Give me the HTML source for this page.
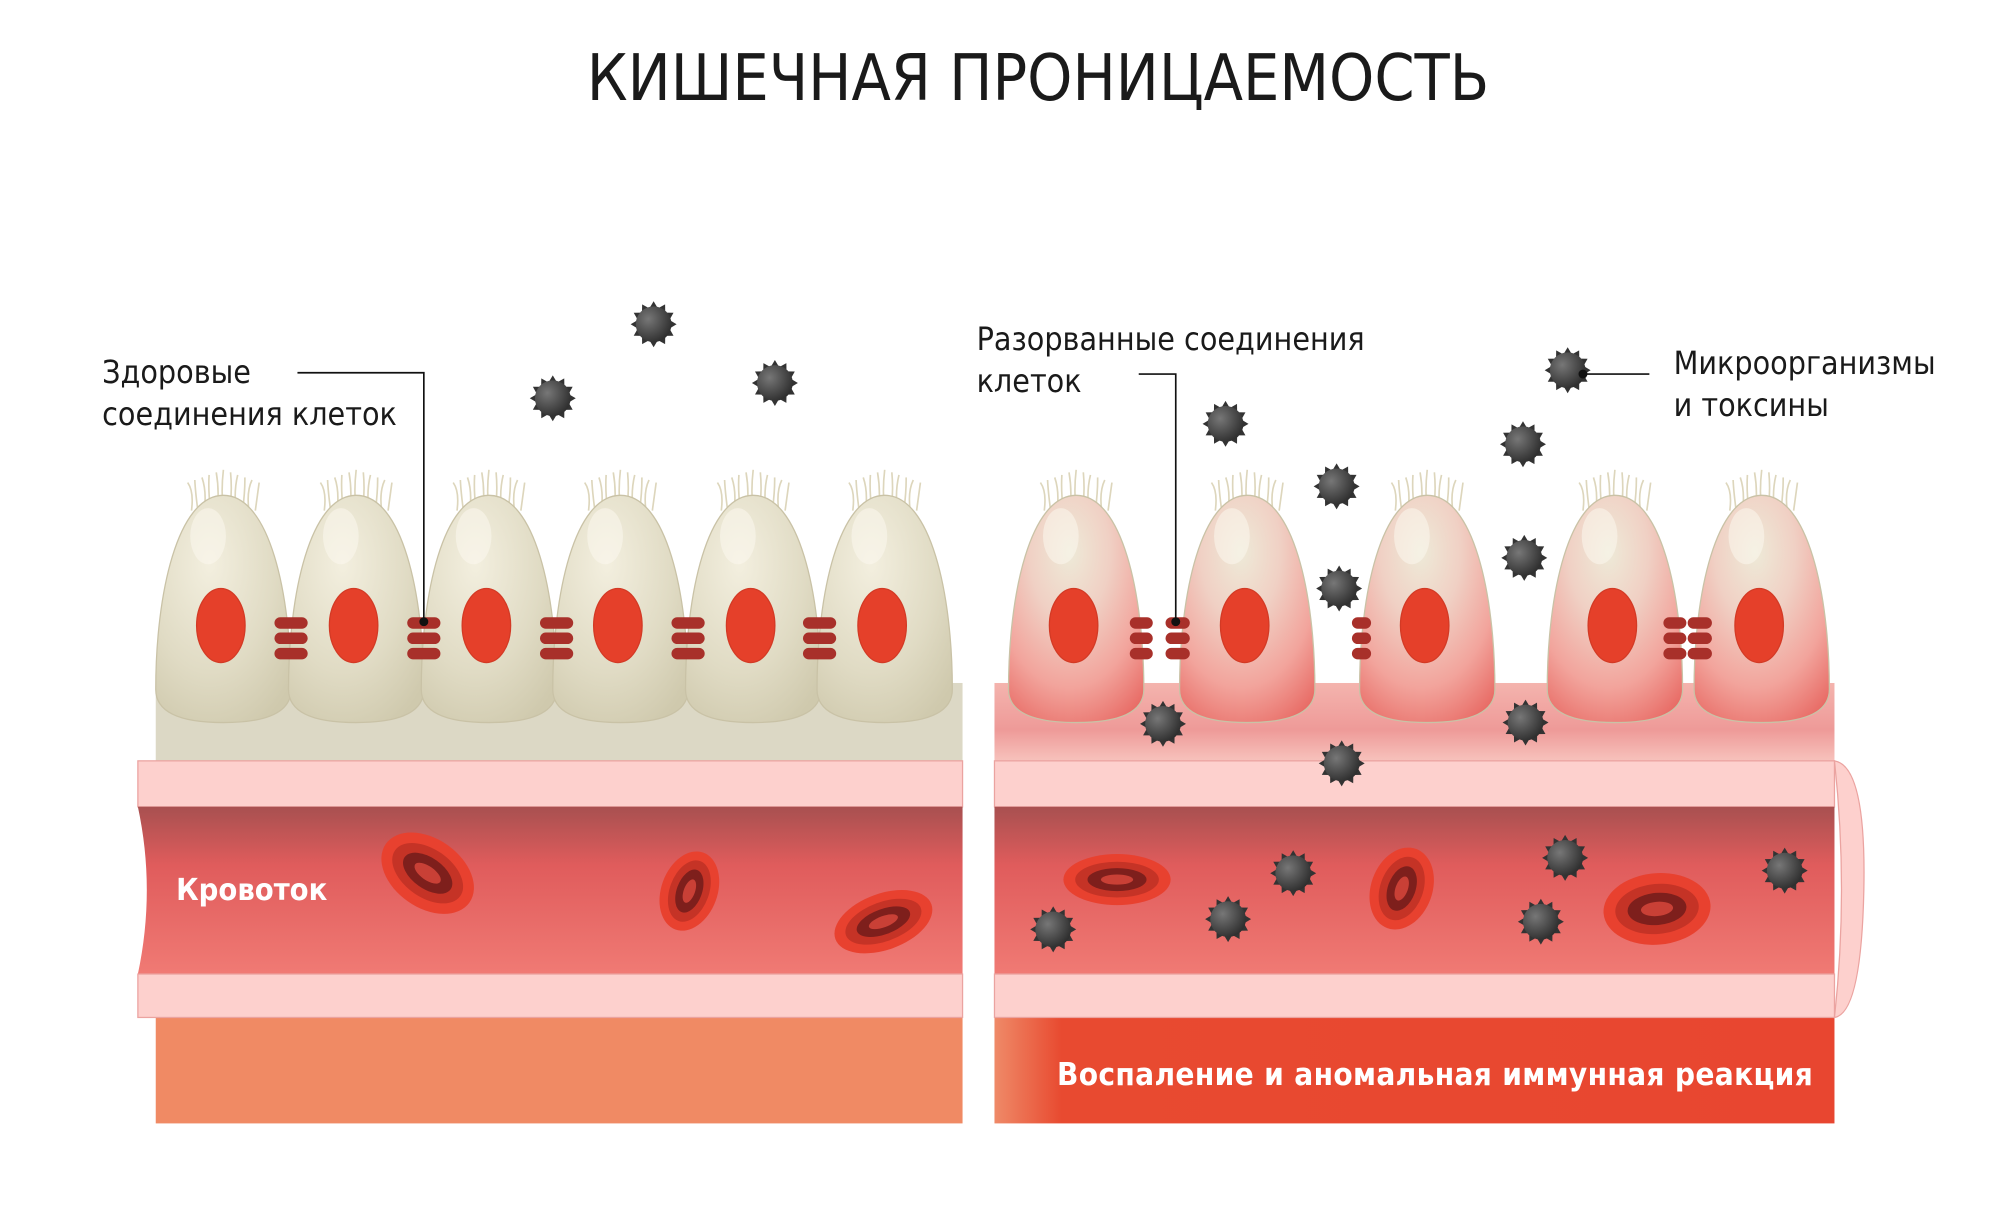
<!DOCTYPE html>
<html><head><meta charset="utf-8"><style>
html,body{margin:0;padding:0;background:#fff;width:2000px;height:1226px;overflow:hidden}
svg{display:block}
text{font-family:"DejaVu Sans Condensed","Liberation Sans",sans-serif}
</style></head><body>
<svg id="s" width="2000" height="1226" viewBox="0 0 2000 1226" xmlns="http://www.w3.org/2000/svg">
<defs>
<linearGradient id="blood" x1="0" y1="0" x2="0" y2="1"><stop offset="0" stop-color="#a85050"/><stop offset="0.35" stop-color="#e05c5c"/><stop offset="1" stop-color="#f07a74"/></linearGradient>
<radialGradient id="cellL" cx="0.4" cy="0.3" r="0.8"><stop offset="0" stop-color="#f3efdf"/><stop offset="0.6" stop-color="#e0dbc4"/><stop offset="1" stop-color="#cfc9ad"/></radialGradient>
<radialGradient id="cellR" cx="0.45" cy="0.25" r="0.85"><stop offset="0" stop-color="#eeead8"/><stop offset="0.35" stop-color="#f0d0c4"/><stop offset="0.7" stop-color="#f2a49c"/><stop offset="1" stop-color="#e86a64"/></radialGradient>
<linearGradient id="baseR" x1="0" y1="0" x2="0" y2="1"><stop offset="0" stop-color="#f4b4ae"/><stop offset="0.6" stop-color="#ee9a98"/><stop offset="1" stop-color="#f7c2bc"/></linearGradient>
<linearGradient id="botR" x1="0" y1="0" x2="1" y2="0"><stop offset="0" stop-color="#ef8a68"/><stop offset="0.08" stop-color="#e84a30"/><stop offset="1" stop-color="#e84630"/></linearGradient>
<radialGradient id="mic" cx="0.35" cy="0.35" r="0.7"><stop offset="0" stop-color="#777"/><stop offset="1" stop-color="#2e2e2e"/></radialGradient>
</defs>
<text x="1038" y="100" font-size="64" text-anchor="middle" fill="#1a1a1a">КИШЕЧНАЯ ПРОНИЦАЕМОСТЬ</text>
<g id="g" transform="scale(1.2766)"></g>
</svg>
<script>
const g=document.getElementById('g');let h='';
h+='<rect x="122" y="535" width="632" height="61" fill="#dcd8c5"/>';
h+='<rect x="779" y="535" width="658" height="61" fill="url(#baseR)"/>';
h+='<rect x="122" y="797" width="632" height="83" fill="#f08a64"/>';
h+='<rect x="779" y="797" width="658" height="83" fill="url(#botR)"/>';
h+='<rect x="108" y="596" width="646" height="36" fill="#fdd0cd" stroke="#eba3a0" stroke-width="1"/>';
h+='<path d="M108,632 L754,632 L754,763 L108,763 Q122,697 108,632Z" fill="url(#blood)"/>';
h+='<rect x="108" y="763" width="646" height="34" fill="#fdd0cd" stroke="#eba3a0" stroke-width="1"/>';
h+='<rect x="779" y="596" width="658" height="36" fill="#fdd0cd" stroke="#eba3a0" stroke-width="1"/>';
h+='<rect x="779" y="632" width="658" height="131" fill="url(#blood)"/>';
h+='<rect x="779" y="763" width="658" height="34" fill="#fdd0cd" stroke="#eba3a0" stroke-width="1"/>';
h+='<path d="M1437,596 Q1462,600 1460,697 Q1458,794 1437,797 Q1448,697 1437,596Z" fill="#fdd0cd" stroke="#eba3a0"/>';
function cell(cx,f){let s='';
 for(let i=-5;i<=5;i++){let x=cx+i*5;s+='<path d="M'+x+',400 Q'+(x+(i%2?2:-2))+',385 '+(x+i*0.6)+','+(368+Math.abs(i)*2)+'" stroke="#ddd6bc" stroke-width="1.3" fill="none"/>';}
 s+='<path d="M'+(cx-53)+',540 C'+(cx-53)+',465 '+(cx-36)+',388 '+cx+',388 C'+(cx+36)+',388 '+(cx+53)+',465 '+(cx+53)+',540 Q'+(cx+53)+',566 '+cx+',566 Q'+(cx-53)+',566 '+(cx-53)+',540Z" fill="url(#'+f+')" stroke="#c9c2a6" stroke-width="1"/>';
 s+='<ellipse cx="'+(cx-12)+'" cy="420" rx="14" ry="22" fill="#fbf8ee" opacity="0.55"/>';
 s+='<ellipse cx="'+(cx-2)+'" cy="490" rx="19" ry="29" fill="#e5402a" stroke="#d33a25"/>';
 return s;}
[175,279,383,486,590,693].forEach(x=>h+=cell(x,'cellL'));
[843,977,1118,1265,1380].forEach(x=>h+=cell(x,'cellR'));
function junc(x,w){let s='';[488,500,512].forEach(y=>s+='<rect x="'+x+'" y="'+(y-4.5)+'" width="'+w+'" height="9" rx="4.5" fill="#a8302a"/>');return s;}
[228,332,436,539,642].forEach(x=>h+=junc(x-13,26));
h+=junc(885,18)+junc(913,19)+junc(1059,15)+junc(1303,18)+junc(1322,19);
function rbc(x,y,a,rx,ry){return '<g transform="translate('+x+','+y+') rotate('+a+')"><ellipse rx="'+rx+'" ry="'+ry+'" fill="#e8412f"/><ellipse rx="'+rx*0.78+'" ry="'+ry*0.7+'" fill="#c53326"/><ellipse rx="'+rx*0.55+'" ry="'+ry*0.45+'" fill="#7e1f1c"/><ellipse rx="'+rx*0.3+'" ry="'+ry*0.2+'" fill="#c94036"/></g>';}
h+=rbc(335,684,35,40,27)+rbc(540,698,-70,32,22)+rbc(692,722,-20,40,22)+rbc(875,689,0,42,20)+rbc(1098,696,-70,33,24)+rbc(1298,712,-5,42,28);
function mic(x,y){let s='<g transform="translate('+x+','+y+')">';for(let i=0;i<12;i++){let a=i*30*Math.PI/180;s+='<polygon points="'+(13*Math.cos(a-0.25))+','+(13*Math.sin(a-0.25))+' '+(18*Math.cos(a))+','+(18*Math.sin(a))+' '+(13*Math.cos(a+0.25))+','+(13*Math.sin(a+0.25))+'" fill="#333"/>';}s+='<circle r="14" fill="url(#mic)"/></g>';return s;}
[[512,254],[433,312],[607,300],[1228,290],[960,332],[1193,348],[1047,381],[1194,437],[1049,461],[911,567],[1195,566],[1051,598],[1013,684],[825,728],[962,720],[1226,672],[1207,722],[1398,682]].forEach(p=>h+=mic(p[0],p[1]));
h+='<path d="M233,292 L332,292 L332,487" stroke="#111" stroke-width="1.3" fill="none"/><circle cx="332" cy="487" r="3.5" fill="#111"/>';
h+='<path d="M892,293 L921,293 L921,487" stroke="#111" stroke-width="1.3" fill="none"/><circle cx="921" cy="487" r="3.5" fill="#111"/>';
h+='<path d="M1240,293 L1292,293" stroke="#111" stroke-width="1.3"/><circle cx="1240" cy="293" r="3.5" fill="#111"/>';
const T=(x,y,t,sz,c,w)=>'<text x="'+x+'" y="'+y+'" font-size="'+sz+'" fill="'+c+'" font-weight="'+(w||'normal')+'">'+t+'</text>';
h+=T(80,300,'Здоровые',25,'#1a1a1a')+T(80,333,'соединения клеток',25,'#1a1a1a');
h+=T(765,274,'Разорванные соединения',25,'#1a1a1a')+T(765,307,'клеток',25,'#1a1a1a');
h+=T(1311,293,'Микроорганизмы',25,'#1a1a1a')+T(1311,326,'и токсины',25,'#1a1a1a');
h+=T(138,705,'Кровоток',24,'#fff','bold')+'<text x="828" y="850" font-size="24.5" fill="#fff" font-weight="bold" textLength="592">Воспаление и аномальная иммунная реакция</text>';
g.innerHTML=h;
</script>
</body></html>
